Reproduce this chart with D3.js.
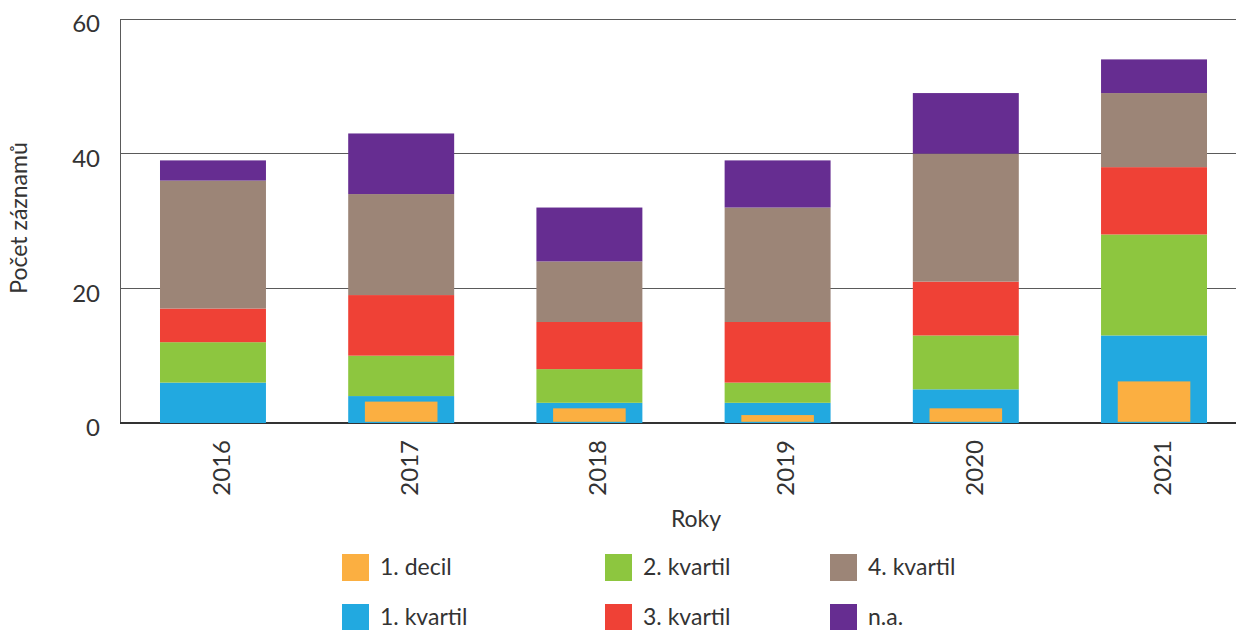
<!DOCTYPE html>
<html>
<head>
    <meta charset="utf-8">
    <title>Počet záznamů</title>
    <script src="https://d3js.org/d3.v7.min.js"></script>
    <style>
        body { margin: 0; background: #fff; }
        text { font-family: Lato, "Open Sans", sans-serif; fill: #333; }
        .grid line { stroke: #5a5a5a; stroke-width: 1px; shape-rendering: crispEdges; }
    </style>
</head>
<body>
    <div id="chart"></div>
    <script>
        // data
        const years = ["2016", "2017", "2018", "2019", "2020", "2021"];
        const decil = [0, 3, 2, 1, 2, 6];
        const kvartil1 = [6, 4, 3, 3, 5, 13];
        const kvartil2 = [6, 6, 5, 3, 8, 15];
        const kvartil3 = [5, 9, 7, 9, 8, 10];
        const kvartil4 = [19, 15, 9, 17, 19, 11];
        const na = [3, 9, 8, 7, 9, 5];
        const yTicks = [0, 20, 40, 60];

        const stackKeys = ["1. kvartil", "2. kvartil", "3. kvartil", "4. kvartil", "n.a."];
        const seriesValues = [kvartil1, kvartil2, kvartil3, kvartil4, na];
        const colors = {
            "1. decil": "#fbaf41",
            "1. kvartil": "#22a9e0",
            "2. kvartil": "#8dc63f",
            "3. kvartil": "#ef4136",
            "4. kvartil": "#9c8577",
            "n.a.": "#662d91"
        };

        const W = 1236, H = 630;
        const svg = d3.select("#chart").append("svg")
            .attr("width", W)
            .attr("height", H);

        const x = d3.scaleBand()
            .domain(years)
            .range([120, 1247])
            .paddingInner(0.437)
            .paddingOuter(0.2125);

        const y = d3.scaleLinear()
            .domain([0, 60])
            .range([423, 19]);

        // gridlines
        svg.append("g")
            .attr("class", "grid")
            .selectAll("line")
            .data(yTicks.filter(d => d > 0))
            .enter().append("line")
            .attr("x1", 120)
            .attr("x2", W)
            .attr("y1", d => y(d))
            .attr("y2", d => y(d));

        // left axis line
        svg.append("line")
            .attr("x1", 120.5).attr("x2", 120.5)
            .attr("y1", y(60)).attr("y2", y(0))
            .attr("stroke", "#5a5a5a")
            .attr("stroke-width", 1);

        // bottom axis line
        svg.append("line")
            .attr("x1", 120).attr("x2", W)
            .attr("y1", y(0)).attr("y2", y(0))
            .attr("stroke", "#333")
            .attr("stroke-width", 2);

        // stacked data
        const rows = years.map((yr, i) => {
            const r = { year: yr };
            stackKeys.forEach((k, j) => { r[k] = seriesValues[j][i]; });
            return r;
        });
        const stacked = d3.stack().keys(stackKeys)(rows);

        svg.append("g")
            .selectAll("g")
            .data(stacked)
            .enter().append("g")
            .attr("fill", d => colors[d.key])
            .selectAll("rect")
            .data(d => d)
            .enter().append("rect")
            .attr("x", d => x(d.data.year))
            .attr("width", x.bandwidth())
            .attr("y", d => y(d[1]))
            .attr("height", d => y(d[0]) - y(d[1]));

        // 1. decil as a narrower bar in front
        const dw = x.bandwidth() * 0.685;
        svg.append("g")
            .selectAll("rect")
            .data(years.map((yr, i) => ({ year: yr, v: decil[i] })).filter(d => d.v > 0))
            .enter().append("rect")
            .attr("fill", colors["1. decil"])
            .attr("x", d => x(d.year) + (x.bandwidth() - dw) / 2)
            .attr("width", dw)
            .attr("y", d => y(d.v) - 1.2)
            .attr("height", d => y(0) - y(d.v));

        // y tick labels
        svg.append("g")
            .selectAll("text")
            .data(yTicks)
            .enter().append("text")
            .attr("x", 100)
            .attr("y", d => y(d))
            .attr("dy", "0.55em")
            .attr("text-anchor", "end")
            .style("font-size", "24px")
            .text(d => d);

        // x tick labels
        svg.append("g")
            .selectAll("text")
            .data(years)
            .enter().append("text")
            .attr("transform", d => `translate(${x(d) + x.bandwidth() / 2},440) rotate(-90)`)
            .attr("dy", "0.7em")
            .attr("text-anchor", "end")
            .style("font-size", "24px")
            .text(d => d);

        // axis titles
        svg.append("text")
            .attr("transform", "translate(27,218) rotate(-90)")
            .attr("text-anchor", "middle")
            .style("font-size", "23px")
            .text("Počet záznamů");

        svg.append("text")
            .attr("x", 696)
            .attr("y", 527)
            .attr("text-anchor", "middle")
            .style("font-size", "23px")
            .text("Roky");

        // legend
        const legendItems = ["1. decil", "1. kvartil", "2. kvartil", "3. kvartil", "4. kvartil", "n.a."];
        const colX = [342, 605, 830];
        const rowY = [554, 604];
        const legend = svg.append("g")
            .selectAll("g")
            .data(legendItems)
            .enter().append("g")
            .attr("transform", (d, i) => `translate(${colX[Math.floor(i / 2)]},${rowY[i % 2]})`);

        legend.append("rect")
            .attr("width", 27)
            .attr("height", 27)
            .attr("fill", d => colors[d]);

        legend.append("text")
            .attr("x", 38)
            .attr("y", 21)
            .style("font-size", "23px")
            .text(d => d);
    </script>
</body>
</html>
